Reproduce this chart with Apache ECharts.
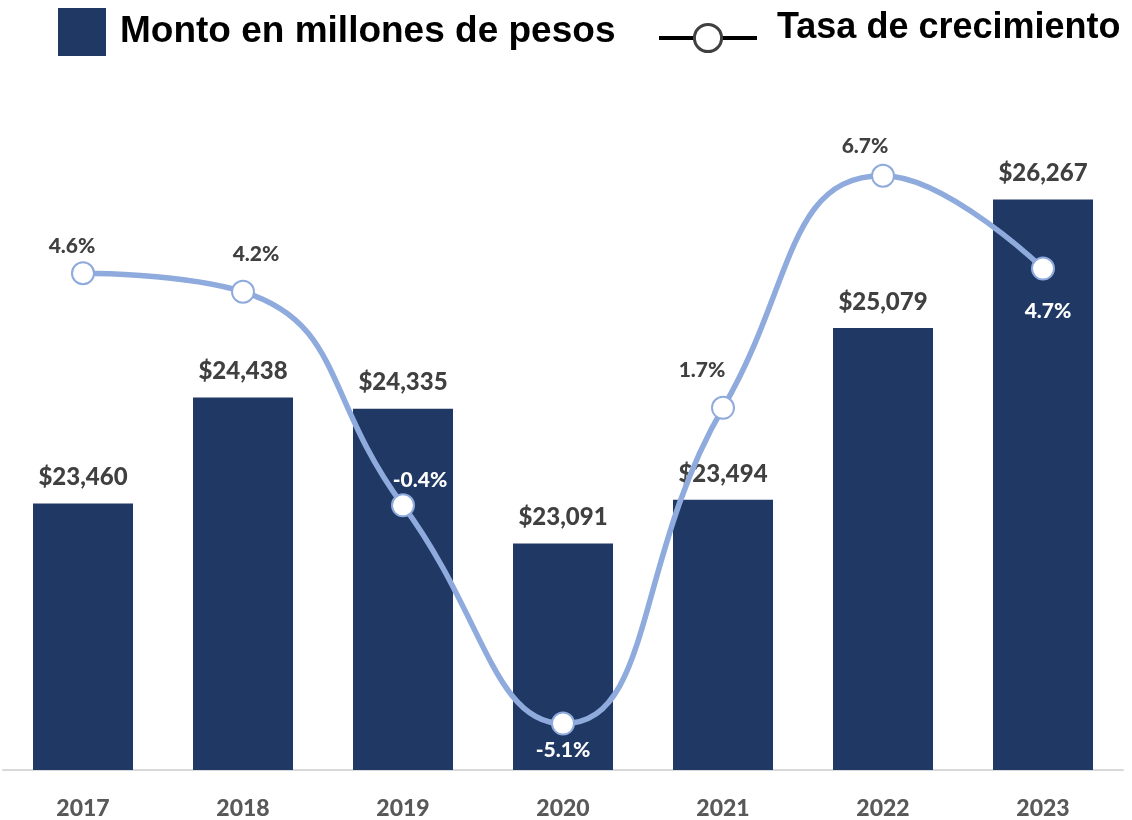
<!DOCTYPE html>
<html>
<head>
<meta charset="utf-8">
<script src="https://cdn.jsdelivr.net/npm/echarts@6/dist/echarts.min.js"></script>
<style>
  html, body { margin: 0; padding: 0; background: #fff; }
  #chart { width: 1132px; height: 820px; }
</style>
</head>
<body>
<div id="chart"></div>
<script>
// datos
const years = ['2017', '2018', '2019', '2020', '2021', '2022', '2023']
const montos = [23460, 24438, 24335, 23091, 23494, 25079, 26267]
const tasas = [4.6, 4.2, -0.4, -5.1, 1.7, 6.7, 4.7]

// colocación de las etiquetas de la tasa (respecto al punto)
const tasaLabelOffset = [[-11, -27], [13, -38], [17, -25], [0, 27], [-21, -38], [-18, -29], [5, 43]]
const tasaLabelWhite = [false, false, true, true, false, false, true]

const navy = '#203864'
const lightBlue = '#8FAADC'
const labelGray = '#404040'

const legendText = {
  fontFamily: 'Liberation Sans',
  fontWeight: 'bold',
  fontSize: 36,
  color: '#000'
}

const chart = echarts.init(document.getElementById('chart'))

const option = {
  backgroundColor: '#fff',
  animation: false,
  legend: [
    {
      data: ['Monto en millones de pesos'],
      left: 58,
      top: 8,
      padding: 0,
      itemWidth: 48,
      itemHeight: 48,
      selectedMode: false,
      icon: 'rect',
      textStyle: { ...legendText, fontSize: 37, padding: [0, 0, 0, 9] }
    },
    {
      // solo el icono de la línea
      data: [{
        name: 'Tasa de crecimiento',
        lineStyle: { color: '#000', width: 4 },
        itemStyle: { color: '#fff', borderColor: '#404040', borderWidth: 3 }
      }],
      left: 657,
      top: 21,
      padding: 0,
      itemWidth: 98,
      itemHeight: 34,
      selectedMode: false,
      formatter: () => '',
      textStyle: { fontSize: 1 }
    },
    {
      // solo el texto
      data: [{
        name: 'Tasa de crecimiento',
        lineStyle: { opacity: 0 },
        itemStyle: { opacity: 0, borderWidth: 0 }
      }],
      left: 770,
      top: 10,
      padding: 0,
      itemWidth: 1,
      itemHeight: 1,
      selectedMode: false,
      textStyle: legendText
    }
  ],
  grid: {
    left: 3,
    right: 9,
    top: 120,
    bottom: 50
  },
  xAxis: {
    type: 'category',
    data: years,
    axisLine: { onZero: false, lineStyle: { color: '#d9d9d9', width: 2 } },
    axisTick: { show: false },
    axisLabel: {
      margin: 27,
      fontFamily: 'Lato',
      fontWeight: 900,
      fontSize: 23,
      color: '#595959'
    }
  },
  yAxis: [
    { type: 'value', min: 21000, max: 27000, show: false, splitLine: { show: false } },
    { type: 'value', min: -6.1, max: 7.9, show: false, splitLine: { show: false } }
  ],
  series: [
    {
      name: 'Monto en millones de pesos',
      type: 'bar',
      data: montos,
      barWidth: 100,
      itemStyle: { color: navy },
      label: {
        show: true,
        position: 'top',
        distance: 14,
        fontFamily: 'Lato',
        fontWeight: 900,
        fontSize: 24,
        color: labelGray,
        formatter: p => '$' + p.value.toLocaleString('en-US')
      },
      z: 2
    },
    {
      name: 'Tasa de crecimiento',
      type: 'line',
      yAxisIndex: 1,
      smooth: 0.5,
      symbol: 'circle',
      symbolSize: 22,
      lineStyle: { color: lightBlue, width: 5.5 },
      itemStyle: { color: '#fff', borderColor: lightBlue, borderWidth: 2 },
      data: tasas.map((v, i) => ({
        value: v,
        label: {
          offset: tasaLabelOffset[i],
          color: tasaLabelWhite[i] ? '#fff' : labelGray
        }
      })),
      label: {
        show: true,
        position: 'inside',
        fontFamily: 'Lato',
        fontWeight: 900,
        fontSize: 21,
        formatter: p => p.value.toFixed(1) + '%'
      },
      z: 3
    }
  ]
}

chart.setOption(option)
</script>
</body>
</html>
